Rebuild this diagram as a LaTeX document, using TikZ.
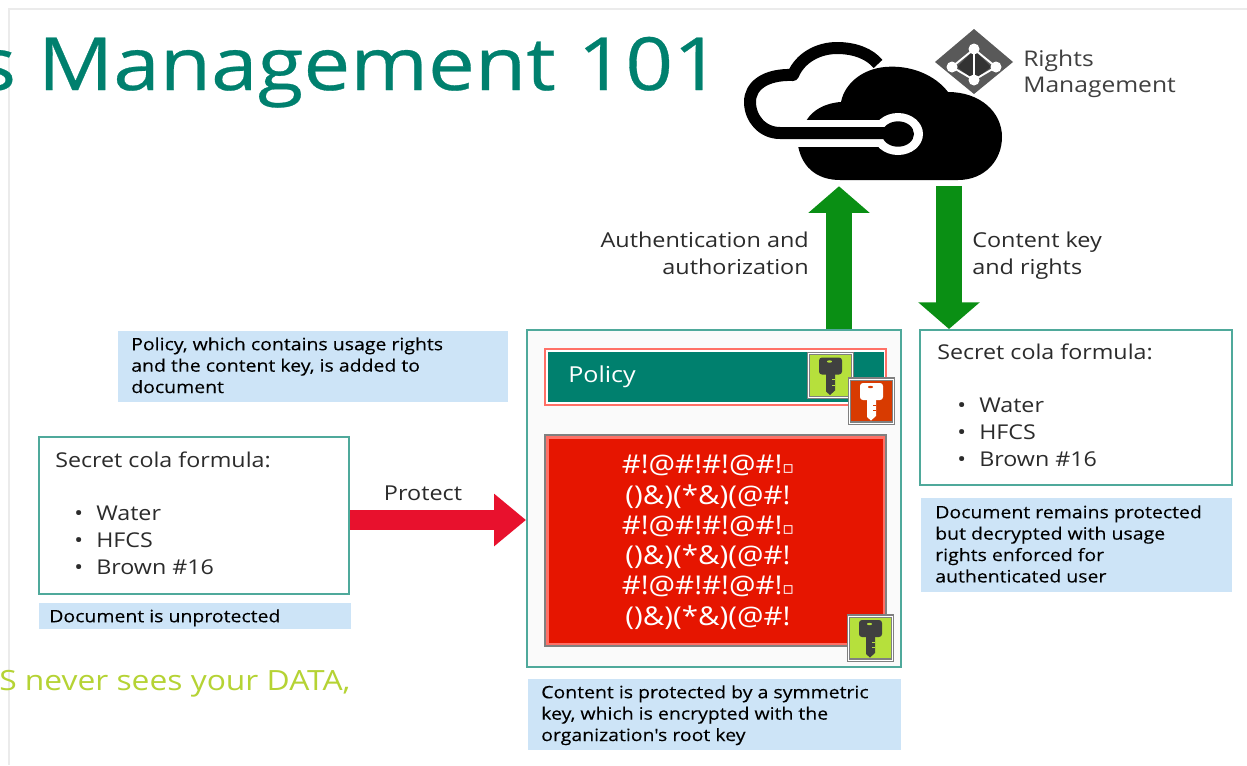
\documentclass[tikz,border=0pt]{standalone}
\usepackage{fontspec}
\setmainfont[FakeStretch=1.14]{Open Sans}
\newfontfamily\titlefont[FakeStretch=1.14,FakeBold=0.4]{Open Sans}
\newfontfamily\notefont[FakeStretch=1.14,FakeBold=0.2]{Open Sans}
\newfontfamily\symfont{DejaVu Sans}
\usetikzlibrary{fit,arrows.meta}
\definecolor{teal}{HTML}{00806E}
\definecolor{frameteal}{HTML}{4FA99B}
\definecolor{noteblue}{HTML}{CDE4F7}
\definecolor{leaf}{HTML}{B6E03C}
\definecolor{rust}{HTML}{D83B01}
\definecolor{cipher}{HTML}{E61500}
\definecolor{salmon}{HTML}{FF7066}
\definecolor{arrowgreen}{HTML}{0A8F14}
\definecolor{arrowred}{HTML}{E8112D}
\definecolor{lime}{HTML}{B5D334}
\definecolor{darktext}{HTML}{2B2B2B}
\newcommand\bodysize{\fontsize{15.3}{20.25}\selectfont}
\newcommand\smallsize{\notefont\fontsize{12.8}{16.05}\selectfont}
\newcommand\labelsize{\fontsize{15.4}{20.25}\selectfont}
\newcommand\bul[1]{\makebox[16.5pt][l]{•}#1}
\newcommand\cipherbox{{\symfont\fontsize{13}{13}\selectfont ▫}}
\tikzset{
  box/.style={inner sep=0pt,fit={#1}},
  docbox/.style={draw=frameteal,line width=1.5pt,fill=white},
  note/.style={fill=noteblue},
  line/.style={anchor=base west,inner sep=0pt,text=darktext,font=\bodysize},
  noteline/.style={anchor=north west,inner sep=0pt,text=black,align=left,font=\smallsize},
  tile/.style={draw=gray,double=white,double distance=.7pt,line width=1.1pt,fill=#1,minimum width=33pt,minimum height=33pt,inner sep=0pt},
}
\newcommand\keyicon[5]{%
  \node[tile=#4] (#1) at (#2,#3) {};
  \begin{scope}[shift={(#2,#3)}]
    \fill[#5,rounded corners=2.2pt] (-11.5,-18) rectangle (11.5,-1);
    \fill[#5] (-4.5,-2) -- (-4.5,16) -- (-0.5,19.5) -- (4.5,15) -- (4.5,-2) -- cycle;
    \fill[#4] (-1,-14) ellipse (2.5 and 1.2);
    \fill[#4] (4.5,3.5) -- (1.2,3.5) -- (1.2,4.8) -- (4.5,4.8) -- cycle;
    \fill[#4] (4.5,9) -- (1.2,9) -- (1.2,10.3) -- (4.5,10.3) -- cycle;
  \end{scope}}
\begin{document}
\begin{tikzpicture}[x=.75pt,y=-.75pt]
\useasboundingbox (0,0) rectangle (1247,765);
\clip (0,0) rectangle (1247,765);
\fill[white] (0,0) rectangle (1247,765);
\draw[black!8,line width=1pt] (9,765) -- (9,9) -- (1247,9);
% title and footer text
\node[anchor=base west,inner sep=0pt,text=teal,font=\titlefont\fontsize{55}{60}\selectfont] (title) at (-24,90) {s Management 101};
\node[anchor=base west,inner sep=0pt,text=lime,font=\fontsize{20.9}{24}\selectfont] (footer) at (-1,690) {S never sees your DATA,};
% cloud
\node[box={(744,43)(1002,186)}] (cloud) {};
\fill[black] (798.3,147) .. controls (803,170) and (820,180) .. (840,180) -- (958,180)
  .. controls (985,180) and (1002,160) .. (1002,137)
  .. controls (1002,112) and (980,92) .. (948,92)
  .. controls (935,75) and (912,66) .. (890,66.7)
  .. controls (865,67) and (845,82) .. (841,102)
  .. controls (825,103) and (813,110) .. (806.7,120) -- cycle;
\fill[white] (790,120) rectangle (890,146.7);
\fill[white] (898,134) ellipse (25 and 21);
\draw[black,line width=9pt,line join=round] (895,133) -- (780,133)
  .. controls (762,133) and (750,118) .. (750,102)
  .. controls (750,86) and (765,74) .. (793,75)
  .. controls (800,58) and (818,48) .. (837,48)
  .. controls (855,48) and (870,54) .. (878,64);
\fill[black] (898,134) ellipse (16 and 12.7);
% rights management logo
\fill[black!65] (974,29) -- (1013,62) -- (974,94) -- (935,62) -- cycle;
\fill[black!80] (974,50) -- (991,67) -- (974,80) -- (957,67) -- cycle;
\draw[white,line width=1.4pt] (974,49) -- (996,67) -- (974,80) -- (952,67) -- cycle (974,49) -- (974,80);
\foreach \px/\py in {974/49,952/67,996/67,974/80} \fill[white] (\px,\py) circle (5.5);
\node[anchor=base west,inner sep=0pt,align=left,text=black!75,font=\fontsize{16.2}{19}\selectfont] (rights) at (1023,92) {Rights\\Management};
% documents
\node[box={(39,437)(349,594)},docbox] (docL) {};
\node[line] (l1) at (55,467) {Secret cola formula:};
\node[line] (l2) at (74,520) {\bul{Water}};
\node[line] (l3) at (74,547) {\bul{HFCS}};
\node[line] (l4) at (74,574) {\bul{Brown \#16}};
\node[box={(920,330)(1232,485)},docbox] (docR) {};
\node[line] (r1) at (937,359) {Secret cola formula:};
\node[line] (r2) at (957,412) {\bul{Water}};
\node[line] (r3) at (957,439) {\bul{HFCS}};
\node[line] (r4) at (957,466) {\bul{Brown \#16}};
% protected document
\node[box={(527,330)(901,667)},docbox,fill=black!2] (prot) {};
\node[box={(545,349)(886,405)},draw=salmon,line width=1.6pt,fill=white] (polframe) {};
\node[box={(548,352)(884,402)},fill=teal] (policy) {};
\node[anchor=base west,inner sep=0pt,text=white,font=\fontsize{16.5}{20}\selectfont] (poltext) at (568,382) {Policy};
\node[box={(545,435)(886,646)},draw=black!50,line width=2pt,fill=salmon] (cipframe) {};
\node[box={(549,439)(883,643)},fill=cipher] (ciphertext) {};
\node[anchor=north,inner sep=0pt,text=white,align=center,font=\fontsize{19.4}{22.7}\selectfont] (ciptext) at (708,455)
 {\#!@\#!\#!@\#!\cipherbox\\()\&)(*\&)(@\#!\\\#!@\#!\#!@\#!\cipherbox\\()\&)(*\&)(@\#!\\\#!@\#!\#!@\#!\cipherbox\\()\&)(*\&)(@\#!};
\keyicon{keyA}{830.5}{375.5}{leaf}{black!75}
\keyicon{keyB}{871.5}{401}{rust}{white}
\keyicon{keyC}{870.5}{638}{leaf}{black!75}
% notes
\node[box={(118,331)(508,402)},note] (n1) {};
\node[noteline] (n1t) at (131,337) {Policy, which contains usage rights\\and the content key, is added to\\document};
\node[box={(39,603)(351,629)},note] (n2) {};
\node[noteline] (n2t) at (49,609) {Document is unprotected};
\node[box={(921,498)(1232,592)},note] (n3) {};
\node[noteline] (n3t) at (935,505) {Document remains protected\\but decrypted with usage\\rights enforced for\\authenticated user};
\node[box={(528,679)(901,750)},note] (n4) {};
\node[noteline] (n4t) at (541,685) {Content is protected by a symmetric\\key, which is encrypted with the\\organization's root key};
% arrows
\coordinate (redrow) at (0,520);
\coordinate (upcol) at (839,0);
\coordinate (downcol) at (949,0);
\draw[arrowred,line width=15pt,-{Triangle[length=24pt,width=38pt]}] (docL.east |- redrow) -- (prot.west |- redrow);
\draw[arrowgreen,line width=19pt,-{Triangle[length=20pt,width=45pt]}] (prot.north -| upcol) -- (cloud.south -| upcol);
\draw[arrowgreen,line width=19pt,-{Triangle[length=20pt,width=45pt]}] (cloud.south -| downcol) -- (docR.north -| downcol);
% arrow labels
\node[anchor=base,inner sep=0pt,text=darktext,font=\labelsize] (protect) at (423,500) {Protect};
\node[anchor=base east,inner sep=0pt,align=right,text=darktext,font=\labelsize] (auth) at (809,274) {Authentication and\\authorization};
\node[anchor=base west,inner sep=0pt,align=left,text=darktext,font=\labelsize] (ckey) at (972,274) {Content key\\and rights};
\end{tikzpicture}
\end{document}
